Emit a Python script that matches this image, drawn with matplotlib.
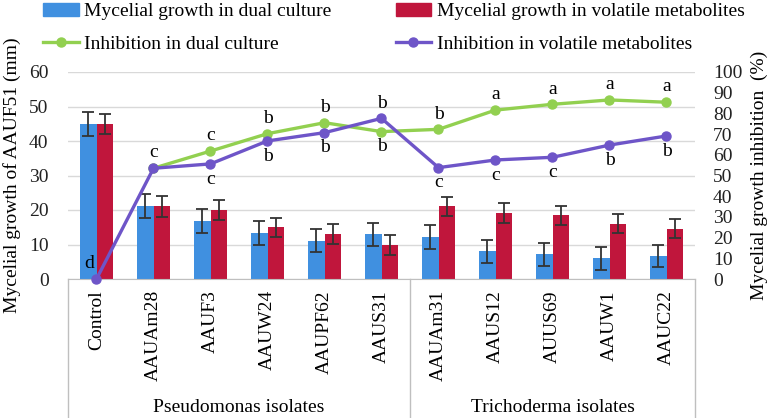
import matplotlib.pyplot as plt
import numpy as np
from matplotlib.lines import Line2D
from matplotlib.patches import Patch

plt.rcParams['font.family'] = ['Liberation Serif', 'DejaVu Serif']

isolates = ['Control', 'AAUAm28', 'AAUF3', 'AAUW24', 'AAUPF62', 'AAUS31',
            'AAUAm31', 'AAUS12', 'AUUS69', 'AAUW1', 'AAUC22']
groups = ['Pseudomonas isolates', 'Trichoderma isolates']
group_sizes = [6, 5]

growth_dual = [44.9, 21.1, 16.9, 13.3, 11.1, 13.0, 12.2, 8.0, 7.2, 6.0, 6.7]
growth_dual_err = [3.5, 3.5, 3.5, 3.5, 3.3, 3.3, 3.5, 3.4, 3.3, 3.4, 3.3]
growth_vol = [44.9, 21.1, 20.0, 15.0, 13.0, 9.9, 21.1, 19.1, 18.5, 16.0, 14.6]
growth_vol_err = [3.0, 3.0, 2.8, 2.8, 2.8, 2.8, 2.8, 2.8, 2.8, 2.8, 2.8]

inhib_dual = [np.nan, 53.5, 61.8, 70.2, 75.5, 71.2, 72.3, 81.6, 84.4, 86.5, 85.4]
inhib_vol = [0.0, 53.5, 55.6, 66.7, 70.7, 77.6, 53.8, 57.5, 58.8, 64.7, 69.1]
letters_dual = ['', 'c', 'c', 'b', 'b', 'b', 'b', 'a', 'a', 'a', 'a']
letters_vol = ['d', '', 'c', 'b', 'b', 'b', 'c', 'c', 'c', 'b', 'b']

c_blue = '#4090E0'
c_red = '#C0163C'
c_green = '#92D050'
c_purple = '#6E55C8'

fig = plt.figure(figsize=(7.78, 4.18), dpi=100)
ax = fig.add_axes([68 / 778, 1 - 279 / 418, (695 - 68) / 778, (279 - 72) / 418])
ax2 = ax.twinx()

x = np.arange(len(isolates))
w = 0.29
ax.bar(x - w / 2, growth_dual, w, color=c_blue, zorder=2)
ax.bar(x + w / 2, growth_vol, w, color=c_red, zorder=2)
ax.errorbar(x - w / 2, growth_dual, yerr=growth_dual_err, fmt='none', ecolor='#333333',
            elinewidth=1.3, capsize=4, capthick=1.3, zorder=3)
ax.errorbar(x + w / 2, growth_vol, yerr=growth_vol_err, fmt='none', ecolor='#333333',
            elinewidth=1.3, capsize=4, capthick=1.3, zorder=3)

ax.set_xlim(-0.5, len(isolates) - 0.5)
ax.set_ylim(0, 60)
ax.set_yticks(range(0, 61, 10))
ax.grid(axis='y', color='#D9D9D9', lw=1, zorder=0)
ax.set_axisbelow(True)
for s in ['top', 'right', 'left']:
    ax.spines[s].set_visible(False)
ax.spines['bottom'].set_color('#BFBFBF')
ax.tick_params(axis='y', length=0, labelsize=14, pad=14, labelcolor='#222222')
ax.tick_params(axis='x', length=0, labelsize=14, pad=8)
ax.set_xticks(x)
ax.set_xticklabels(isolates, rotation=90, va='top')
ax.set_ylabel('Mycelial growth of AAUF51 (mm)', fontsize=14, labelpad=6)

ax2.plot(x, inhib_dual, color=c_green, lw=2.4, marker='o', ms=6.5, zorder=4, clip_on=False)
ax2.plot(x, inhib_vol, color=c_purple, lw=2.4, marker='o', ms=6.5, zorder=5, clip_on=False)
ax2.set_ylim(0, 100)
ax2.set_yticks(range(0, 101, 10))
for s in ['top', 'right', 'left', 'bottom']:
    ax2.spines[s].set_visible(False)
ax2.tick_params(axis='y', length=0, labelsize=14, pad=13, labelcolor='#222222')
ax2.set_ylabel('Mycelial growth inhibition  (%)', fontsize=14, rotation=90, labelpad=6)

# significance letters
up, down = 11, -11
for i in range(len(isolates)):
    if letters_dual[i]:
        below = isolates[i] == 'AAUS31'
        ax2.annotate(letters_dual[i], (x[i], inhib_dual[i]), xytext=(0, down if below else up),
                     textcoords='offset points', ha='center', va='center', fontsize=14)
    if letters_vol[i]:
        above = isolates[i] in ('Control', 'AAUS31')
        dx = -5 if isolates[i] == 'Control' else 0
        ax2.annotate(letters_vol[i], (x[i], inhib_vol[i]), xytext=(dx, up if above else down),
                     textcoords='offset points', ha='center', va='center', fontsize=14)

# group separators and labels below the axis
trans = ax.get_xaxis_transform()
bottom_y = -(418 - 279) / 207
edges = [-0.5]
for n in group_sizes:
    edges.append(edges[-1] + n)
for e in edges:
    ax.plot([e, e], [0, bottom_y], transform=trans, color='#BFBFBF', lw=1, clip_on=False)
for k, g in enumerate(groups):
    mid = (edges[k] + edges[k + 1]) / 2
    ax.text(mid, -(407 - 279) / 207, g, transform=trans, ha='center', va='center', fontsize=14)

handles = [Patch(color=c_blue),
           Line2D([], [], color=c_green, lw=2.4, marker='o', ms=6.5),
           Patch(color=c_red),
           Line2D([], [], color=c_purple, lw=2.4, marker='o', ms=6.5)]
labels = ['Mycelial growth in dual culture', 'Inhibition in dual culture',
          'Mycelial growth in volatile metabolites', 'Inhibition in volatile metabolites']
fig.legend(handles, labels, loc='upper left', bbox_to_anchor=(26 / 778, 1.035), ncol=2,
           frameon=False, fontsize=14, handlelength=1.8, handletextpad=0.3,
           columnspacing=3.3, labelspacing=0.75)

fig.savefig('out.png', dpi=100)
